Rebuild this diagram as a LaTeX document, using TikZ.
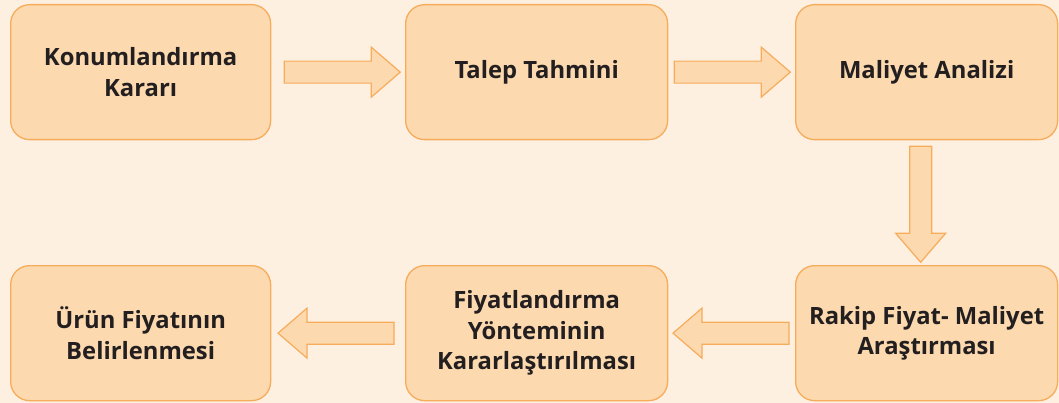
\documentclass[tikz,border=0pt]{standalone}
\usepackage{fontspec}
\setmainfont{Open Sans}
\usetikzlibrary{calc}
\definecolor{bgc}{RGB}{253,240,225}
\definecolor{boxfill}{RGB}{252,217,174}
\definecolor{boxline}{RGB}{247,172,92}
\definecolor{txt}{RGB}{35,31,32}
\tikzset{
  stepbox/.style={draw=boxline, line width=1.3pt, fill=boxfill, rounded corners=19pt,
    minimum width=260pt, minimum height=135pt, inner sep=0pt, align=center,
    text=txt, font=\bfseries\fontsize{23.8}{30.5}\selectfont, anchor=north west},
  barrow/.style={draw=boxline, line width=1.2pt, fill=boxfill, line join=miter}
}
\newcommand{\blockarrow}[2]{%
  \begin{scope}[shift={(#1)}, rotate=#2]
    \draw[barrow] (0,-11) -- (87,-11) -- (87,-25) -- (116,0) -- (87,25) -- (87,11) -- (0,11) -- cycle;
  \end{scope}}
\begin{document}
\begin{tikzpicture}[x=1pt, y=-1pt]
\fill[bgc] (0,0) rectangle (1059,403);
\useasboundingbox (0,0) rectangle (1059,403);
\node[stepbox] (b1) at (10,4) {Konumlandırma\\Kararı};
\node[stepbox, minimum width=262pt] (b2) at (405,4) {Talep Tahmini};
\node[stepbox, minimum width=262pt] (b3) at (795,4) {Maliyet Analizi};
\node[stepbox] (b4) at (10,265) {Ürün Fiyatının\\Belirlenmesi};
\node[stepbox, minimum width=262pt] (b5) at (405,265) {Fiyatlandırma\\Yönteminin\\Kararlaştırılması};
\node[stepbox, minimum width=262pt] (b6) at (795,265) {Rakip Fiyat- Maliyet\\Araştırması};
\coordinate (a1) at ($(b1.east)+(13,0)$);
\coordinate (a2) at ($(b2.east)+(6,0)$);
\coordinate (a3) at ($(b3.south)+(-6,6)$);
\coordinate (a4) at ($(b6.west)+(-6,0)$);
\coordinate (a5) at ($(b5.west)+(-11,0)$);
\blockarrow{a1}{0}
\blockarrow{a2}{0}
\blockarrow{a3}{-90}
\blockarrow{a4}{180}
\blockarrow{a5}{180}
\end{tikzpicture}
\end{document}
